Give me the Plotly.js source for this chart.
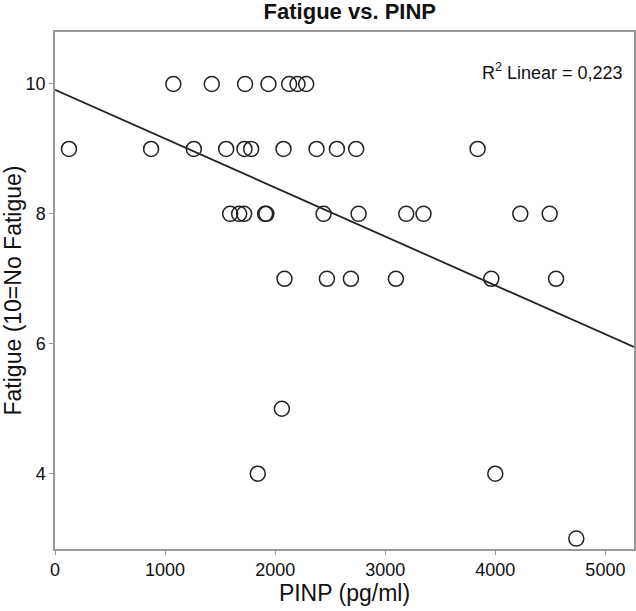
<!DOCTYPE html>
<html>
<head>
<meta charset="utf-8">
<script src="https://cdn.plot.ly/plotly-3.0.1.min.js"></script>
<style>html,body{margin:0;padding:0;background:#fff;}#chart{width:636px;height:611px;}</style>
</head>
<body>
<div id="chart"></div>
<script>
const pinp = [
  1075, 1424, 1727, 1939, 2127, 2203, 2282,
  127, 873, 1261, 1555, 1721, 1782, 2076, 2376, 2561, 2736, 3839,
  1591, 1673, 1718, 1909, 1920, 2440, 2758, 3191, 3348, 4227, 4494,
  2085, 2470, 2688, 3097, 3964, 4552,
  2061, 1842, 4000, 4736
];
const fatigue = [
  10, 10, 10, 10, 10, 10, 10,
  9, 9, 9, 9, 9, 9, 9, 9, 9, 9, 9,
  8, 8, 8, 8, 8, 8, 8, 8, 8, 8, 8,
  7, 7, 7, 7, 7, 7,
  5, 4, 4, 3
];
const fitX = [0, 5260];
const fitY = [9.91, 5.95];
const xTicks = [0, 1000, 2000, 3000, 4000, 5000];
const yTicks = [4, 6, 8, 10];

const traces = [
  {
    x: pinp, y: fatigue, type: 'scatter', mode: 'markers',
    marker: {symbol: 'circle-open', size: 15, color: '#222', line: {width: 1.5, color: '#222'}},
    hoverinfo: 'x+y', showlegend: false
  },
  {
    x: fitX, y: fitY, type: 'scatter', mode: 'lines',
    line: {color: '#222', width: 1.8}, hoverinfo: 'skip', showlegend: false
  }
];

const layout = {
  width: 636, height: 611,
  margin: {l: 55, r: 2, t: 32, b: 62},
  paper_bgcolor: '#fff', plot_bgcolor: '#fff',
  font: {family: 'Liberation Sans, Arial, sans-serif', color: '#111'},
  title: {text: '<b>Fatigue vs. PINP</b>', font: {size: 22, color: '#111'}, x: 0.55, xanchor: 'center', y: 0.981, yanchor: 'middle'},
  xaxis: {
    range: [0, 5260], tickvals: xTicks, ticktext: xTicks.map(String),
    showgrid: false, zeroline: false, showline: true, linecolor: '#999', linewidth: 1.5, mirror: true,
    ticks: 'outside', ticklen: 4, tickcolor: '#999', tickfont: {size: 18, color: '#111'},
    title: {text: 'PINP (pg/ml)', font: {size: 23, color: '#111'}, standoff: 6}
  },
  yaxis: {
    range: [2.84, 10.8], tickvals: yTicks, ticktext: yTicks.map(String),
    showgrid: false, zeroline: false, showline: true, linecolor: '#999', linewidth: 1.5, mirror: true,
    ticks: 'outside', ticklen: 4, tickcolor: '#999', tickfont: {size: 18, color: '#111'},
    title: {text: 'Fatigue (10=No Fatigue)', font: {size: 23, color: '#111'}, standoff: 4}
  },
  annotations: [{
    xref: 'paper', yref: 'paper', x: 0.985, y: 0.923, xanchor: 'right', yanchor: 'middle',
    text: 'R<sup>2</sup> Linear = 0,223', showarrow: false, font: {size: 18, color: '#111'}
  }]
};

Plotly.newPlot('chart', traces, layout, {displayModeBar: false});
</script>
</body>
</html>
